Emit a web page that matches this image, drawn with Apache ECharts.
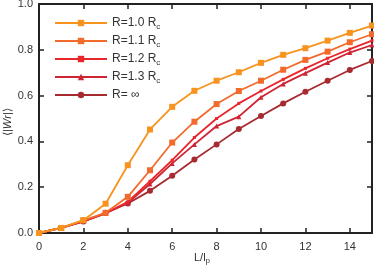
<!DOCTYPE html>
<html><head><meta charset="utf-8">
<script src="https://cdn.jsdelivr.net/npm/echarts@6/dist/echarts.min.js"></script>
<style>html,body{margin:0;padding:0;background:#fff}#c{width:374px;height:271px}</style>
</head><body><div id="c"></div>
<script>
const xValues = [0,1,2,3,4,5,6,7,8,9,10,11,12,13,14,15];
const seriesNames = ['R=1.0 R_c','R=1.1 R_c','R=1.2 R_c','R=1.3 R_c','R= ∞'];
const r10 = [0,0.022,0.056,0.128,0.296,0.452,0.551,0.621,0.665,0.702,0.743,0.778,0.807,0.840,0.874,0.906];
const r11 = [0,0.022,0.055,0.088,0.158,0.274,0.395,0.486,0.563,0.620,0.665,0.713,0.756,0.792,0.833,0.868];
const r12 = [0,0.022,0.052,0.086,0.136,0.226,0.318,0.417,0.500,0.566,0.620,0.671,0.719,0.763,0.803,0.840];
const r13 = [0,0.022,0.052,0.086,0.132,0.214,0.304,0.387,0.467,0.508,0.593,0.651,0.698,0.744,0.788,0.821];
const rInf = [0,0.022,0.050,0.088,0.129,0.184,0.250,0.321,0.387,0.454,0.511,0.566,0.617,0.665,0.712,0.751];

const colors = ['#F7931E','#F26A2C','#E8262C','#CF2433','#A62A30'];
const symbols = ['rect','rect','rect','triangle','circle'];
const symSizes = [6,6,3,5,6];
const allData = [r10,r11,r12,r13,rInf];

const series = allData.map((d,i)=>({
  name: seriesNames[i],
  type:'line',
  data: d.map((v,j)=>[xValues[j],v]),
  symbol: symbols[i],
  symbolSize: symSizes[i],
  showSymbol: true,
  lineStyle:{color:colors[i],width:1.8},
  itemStyle:{color:colors[i]},
  z: 10 - i
}));

const chart = echarts.init(document.getElementById('c'));
const FF = 'Liberation Sans, Arial, sans-serif';
function mkAxis(base, lab){
  return Object.assign({
    axisLine:{show:true,onZero:false,lineStyle:{color:'#222',width:2}},
    axisTick:{show:true,inside:true,length:5,lineStyle:{color:'#222',width:1.5}},
    splitLine:{show:false},
    axisLabel: lab ? {show:true,fontFamily:FF,fontSize:11,color:'#333',margin:lab.margin,showMaxLabel:lab.showMax,formatter:lab.fmt} : {show:false}
  }, base);
}
chart.setOption({
  animation:false,
  grid:{left:39,right:2,top:4,bottom:38,outerBoundsMode:'none'},
  legend:{
    left:49, top:12, orient:'vertical', itemGap:4.5, itemWidth:52, itemHeight:8,
    data: seriesNames,
    textStyle:{fontFamily:FF,fontSize:12,color:'#333',
      rich:{sub:{fontSize:8,color:'#333',padding:[7,0,0,0],fontFamily:FF},
            n:{fontSize:12,color:'#333',fontFamily:FF}}},
    formatter:function(name){
      const p = name.split('_');
      if(p.length===2) return '{n|'+p[0]+'}{sub|'+p[1]+'}';
      return '{n|'+name+'}';
    }
  },
  xAxis:[
    mkAxis({type:'value',min:0,max:15,interval:2}, {margin:8,showMax:false,fmt:v=>String(v)}),
    mkAxis({type:'value',min:0,max:15,interval:2,position:'top'}, null)
  ],
  yAxis:[
    mkAxis({type:'value',min:0,max:1,interval:0.2}, {margin:6,showMax:true,fmt:v=>v.toFixed(1)}),
    mkAxis({type:'value',min:0,max:1,interval:0.2,position:'right'}, null)
  ],
  graphic:[
    {type:'text',left:194,top:252,style:{rich:{n:{fontSize:11,fill:'#333',fontFamily:FF},sub:{fontSize:8,fill:'#333',fontFamily:FF,padding:[6,0,0,0]}},text:'{n|L/l}{sub|p}'}},
    {type:'text',x:2,y:136,rotation:Math.PI/2,style:{rich:{n:{fontSize:11,fill:'#333',fontFamily:FF},i:{fontSize:11,fontStyle:'italic',fill:'#333',fontFamily:FF}},text:'{n|⟨|}{i|Wr}{n||⟩}'}}
  ],
  series: series
});
</script></body></html>
